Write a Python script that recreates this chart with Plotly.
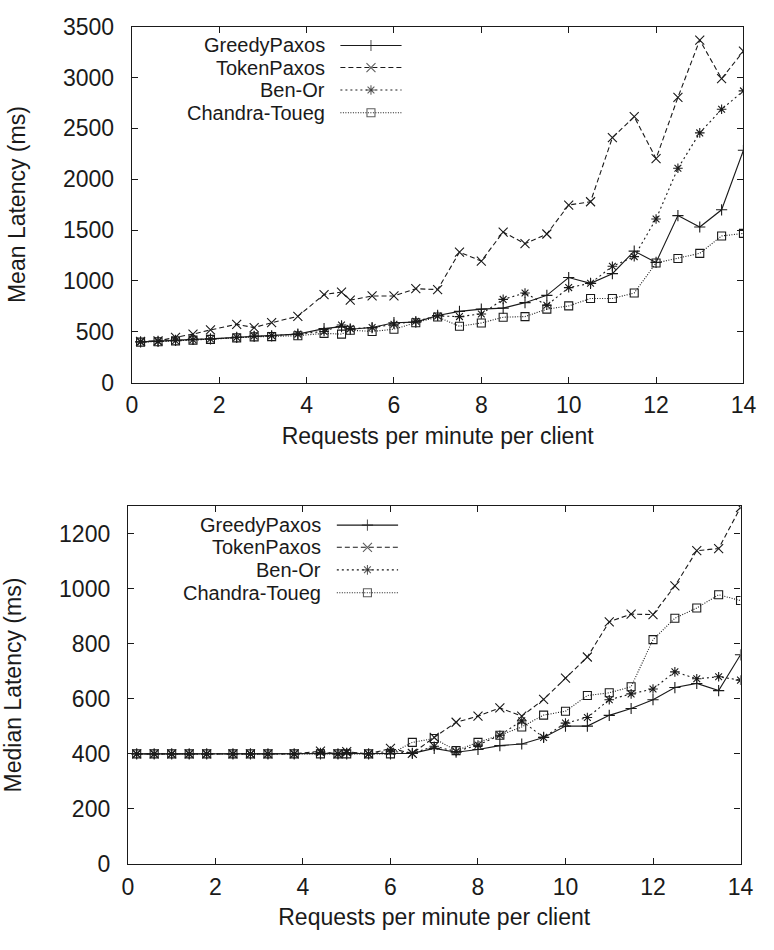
import plotly.graph_objects as go

# ---------------- data ----------------
requests = [0.2, 0.6, 1.0, 1.4, 1.8, 2.4, 2.8, 3.2, 3.8, 4.4, 4.8, 5.0, 5.5, 6.0, 6.5,
            7.0, 7.5, 8.0, 8.5, 9.0, 9.5, 10.0, 10.5, 11.0, 11.5, 12.0, 12.5, 13.0, 13.5, 14.0]

series_names = ["GreedyPaxos", "TokenPaxos", "Ben-Or", "Chandra-Toueg"]

mean_greedy = [400, 405, 415, 425, 430, 445, 455, 460, 477, 531, 550, 525, 541, 589, 595,
               660, 700, 722, 732, 786, 858, 1033, 976, 1071, 1293, 1182, 1642, 1530, 1699, 2284]
mean_token = [405, 410, 445, 477, 518, 573, 541, 589, 652, 866, 890, 811, 852, 852, 923,
              915, 1283, 1195, 1480, 1366, 1461, 1746, 1778, 2408, 2614, 2203, 2804, 3368, 2988, 3258]
mean_benor = [400, 405, 412, 422, 428, 445, 458, 462, 477, 503, 566, 531, 541, 573, 604,
              655, 649, 675, 818, 881, 760, 934, 976, 1144, 1239, 1609, 2107, 2455, 2687, 2868]
mean_ct = [398, 402, 410, 418, 425, 440, 450, 452, 461, 484, 477, 515, 503, 525, 589,
           645, 554, 586, 643, 649, 722, 754, 827, 827, 881, 1176, 1220, 1271, 1442, 1467]

median_greedy = [400, 400, 400, 400, 400, 400, 400, 400, 400, 400, 400, 400, 400, 400, 402,
                 420, 406, 416, 430, 436, 460, 501, 501, 540, 565, 597, 641, 656, 630, 760]
median_token = [400, 400, 400, 400, 400, 400, 400, 400, 400, 410, 400, 408, 400, 420, 402,
                460, 515, 537, 567, 537, 598, 675, 752, 880, 908, 906, 1010, 1138, 1146, 1295]
median_benor = [400, 400, 400, 400, 400, 400, 400, 400, 400, 405, 400, 405, 400, 410, 402,
                428, 409, 432, 468, 520, 460, 512, 532, 597, 618, 636, 698, 673, 680, 668]
median_ct = [400, 400, 400, 400, 400, 400, 400, 400, 400, 400, 400, 400, 400, 400, 442,
             456, 412, 442, 468, 498, 541, 555, 612, 622, 644, 815, 893, 930, 978, 957]

x_ticks = [0, 2, 4, 6, 8, 10, 12, 14]
mean_ticks = [0, 500, 1000, 1500, 2000, 2500, 3000, 3500]
median_ticks = [0, 200, 400, 600, 800, 1000, 1200]

x_title = "Requests per minute per client"
mean_title = "Mean Latency (ms)"
median_title = "Median Latency (ms)"

# ---------------- styles ----------------
INK = "#1a1a1a"
FONT = "Liberation Sans, Arial, sans-serif"
FS = 23
KEY_FS = 20
styles = [
    dict(dash="solid", symbol="cross-thin-open", size=8),
    dict(dash="5px,3px", symbol="x-thin-open", size=9),
    dict(dash="2px,3px", symbol="asterisk-open", size=8),
    dict(dash="1px,1.5px", symbol="square-open", size=8),
]

W, H = 774, 950
top_x = [129 / W, 756 / W]
top_y = [1 - 380 / H, 1 - 14 / H]
bot_x = [125 / W, 753 / W]
bot_y = [1 - 875 / H, 1 - 507 / H]

fig = go.Figure()

mean_data = [mean_greedy, mean_token, mean_benor, mean_ct]
median_data = [median_greedy, median_token, median_benor, median_ct]

for name, ys, st in zip(series_names, mean_data, styles):
    fig.add_trace(go.Scatter(
        x=requests, y=ys, mode="lines+markers", name=name, showlegend=False,
        xaxis="x", yaxis="y",
        line=dict(color=INK, width=1.1, dash=st["dash"]),
        marker=dict(symbol=st["symbol"], size=st["size"], color=INK,
                    line=dict(color=INK, width=1.1)),
    ))
for name, ys, st in zip(series_names, median_data, styles):
    fig.add_trace(go.Scatter(
        x=requests, y=ys, mode="lines+markers", name=name, showlegend=False,
        xaxis="x2", yaxis="y2",
        line=dict(color=INK, width=1.1, dash=st["dash"]),
        marker=dict(symbol=st["symbol"], size=st["size"], color=INK,
                    line=dict(color=INK, width=1.1)),
    ))

# ------------- gnuplot-style key (text right, sample to the right) -------------
key_rows = [0.947, 0.885, 0.822, 0.758]
key_text_x = 0.317
key_sample = [0.341, 0.391, 0.441]
annotations = []
for (xa, ya, xkey, ykey) in [("x3", "y3", "x", "y"), ("x4", "y4", "x2", "y2")]:
    for name, st, row in zip(series_names, styles, key_rows):
        fig.add_trace(go.Scatter(
            x=key_sample, y=[row] * 3, mode="lines+markers", showlegend=False,
            hoverinfo="skip", xaxis=xa, yaxis=ya,
            line=dict(color=INK, width=1.1, dash=st["dash"]),
            marker=dict(symbol=st["symbol"], size=[0, st["size"], 0], color=INK,
                        line=dict(color=INK, width=1.1)),
        ))
        annotations.append(dict(
            x=key_text_x, y=row, xref=xkey + " domain", yref=ykey + " domain",
            text=name, showarrow=False, xanchor="right", yanchor="middle",
            borderpad=0,
            font=dict(family=FONT, size=KEY_FS, color=INK),
        ))

axis_common = dict(
    showline=True, linecolor=INK, linewidth=1.2, mirror="ticks",
    ticks="inside", ticklen=6, tickcolor=INK, tickwidth=1,
    showgrid=False, zeroline=False,
    tickfont=dict(family=FONT, size=FS, color=INK),
)

title_font = dict(family=FONT, size=FS, color=INK)

fig.update_layout(
    width=W, height=H, margin=dict(l=0, r=0, t=0, b=0),
    paper_bgcolor="white", plot_bgcolor="white",
    showlegend=False,
    annotations=annotations,
    xaxis=dict(domain=top_x, range=[0, 14], tickvals=x_ticks, anchor="y",
               ticklabelstandoff=2,
               title=dict(text=x_title, font=title_font, standoff=10),
               **axis_common),
    yaxis=dict(domain=top_y, range=[0, 3500], tickvals=mean_ticks, anchor="x",
               ticklabelstandoff=12,
               title=dict(text=mean_title, font=title_font, standoff=30),
               **axis_common),
    xaxis2=dict(domain=bot_x, range=[0, 14], tickvals=x_ticks, anchor="y2",
                ticklabelstandoff=2,
                title=dict(text=x_title, font=title_font, standoff=10),
                **axis_common),
    yaxis2=dict(domain=bot_y, range=[0, 1300], tickvals=median_ticks, anchor="x2",
                ticklabelstandoff=12,
                title=dict(text=median_title, font=title_font, standoff=30),
                **axis_common),
    xaxis3=dict(domain=top_x, range=[0, 1], visible=False, anchor="y3", overlaying="x"),
    yaxis3=dict(domain=top_y, range=[0, 1], visible=False, anchor="x3", overlaying="y"),
    xaxis4=dict(domain=bot_x, range=[0, 1], visible=False, anchor="y4", overlaying="x2"),
    yaxis4=dict(domain=bot_y, range=[0, 1], visible=False, anchor="x4", overlaying="y2"),
)

fig.write_html("out.html")
